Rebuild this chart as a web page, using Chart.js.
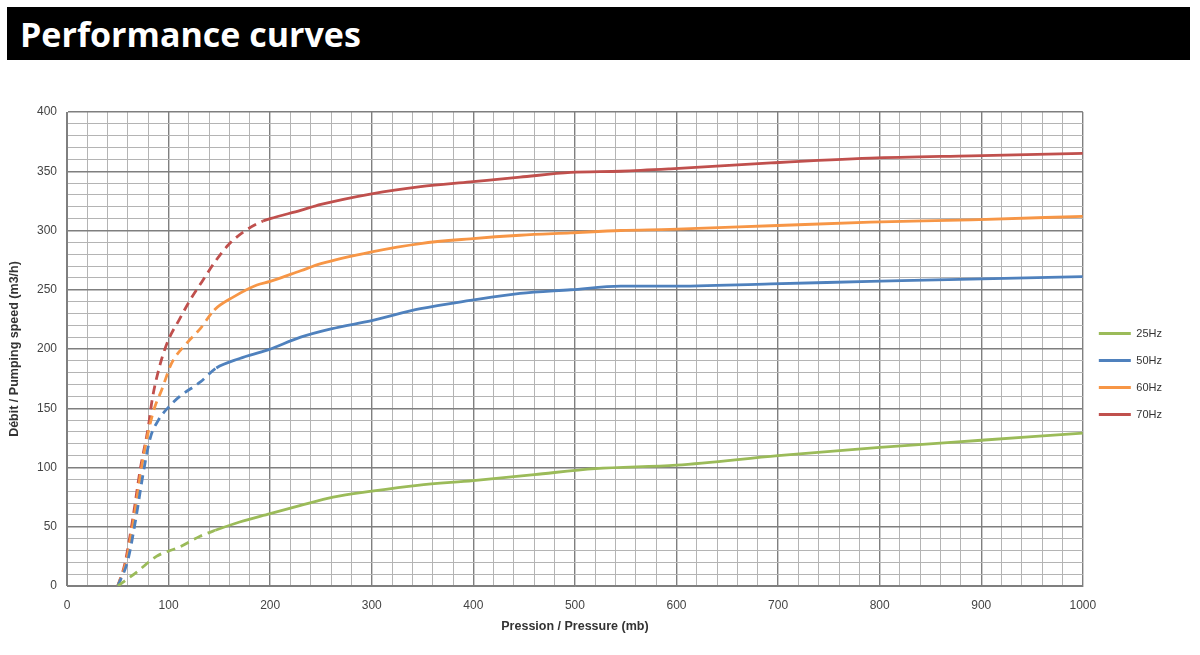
<!DOCTYPE html>
<html>
<head>
<meta charset="utf-8">
<script src="https://cdn.jsdelivr.net/npm/chart.js@4.4.1/dist/chart.umd.min.js"></script>
<style>
  html, body { margin: 0; padding: 0; background: #fff; }
  body { width: 1200px; height: 655px; position: relative; overflow: hidden; }
  #banner {
    position: absolute; left: 7px; top: 7px; width: 1183px; height: 53px;
    background: #000; color: #fff;
    font-family: "Open Sans", sans-serif; font-weight: 700; font-size: 34px;
    line-height: 55px; padding-left: 13px; box-sizing: border-box;
  }
  #wrap { position: absolute; left: 0; top: 90px; width: 1200px; height: 546px; }
</style>
</head>
<body>
<div id="banner">Performance curves</div>
<div id="wrap"><canvas id="perfChart"></canvas></div>
<script>
// performance curves - pumping speed vs pressure

// 25Hz
let p25 = [50, 69, 88, 111, 131, 146, 170, 200, 230, 262, 300, 345, 400, 460, 520, 600, 700, 800, 900, 1000];
let q25 = [0, 12, 25, 33, 42, 47, 54, 61, 68, 75, 80, 85, 89, 94, 99, 102, 110, 117, 123, 129];

// 50Hz
let p50 = [50, 60, 68, 75, 82, 90, 100, 111, 131, 147, 170, 197, 230, 260, 300, 348, 397, 446, 496, 545, 594, 693, 791, 890, 1000];
let q50 = [0, 22, 58, 95, 125, 140, 151, 160, 172, 184, 192, 199, 210, 217, 224, 234, 241, 247, 250, 253, 253, 255, 257, 259, 261];

// 60Hz
let p60 = [50, 58, 66, 73, 80, 86, 93, 103, 118, 131, 145, 164, 187, 200, 230, 250, 300, 348, 397, 446, 496, 545, 594, 693, 791, 890, 1000];
let q60 = [0, 20, 58, 98, 130, 150, 165, 188, 205, 217, 233, 244, 254, 257, 266, 272, 282, 289, 293, 296, 298, 300, 301, 304, 307, 309, 312];

// 70Hz
let p70 = [50, 57, 65, 72, 80, 84, 92, 100, 110, 121, 133, 146, 159, 174, 193, 200, 230, 250, 300, 348, 397, 446, 496, 545, 594, 693, 791, 890, 1000];
let q70 = [0, 19, 58, 98, 134, 158, 188, 208, 224, 241, 257, 274, 288, 299, 308, 310, 317, 322, 331, 337, 341, 345, 349, 350, 352, 357, 361, 363, 365];

// pressure where the dashed part of each curve stops
let dashEnd = { "25Hz": 146, "50Hz": 147, "60Hz": 145, "70Hz": 193 };

let labels = ["25Hz", "50Hz", "60Hz", "70Hz"];
let colors = ["#9bbb59", "#4f81bd", "#f79646", "#c0504d"];
let pressures = [p25, p50, p60, p70];
let flows = [q25, q50, q60, q70];

const toPoints = (xs, ys) => xs.map((x, i) => ({ x: x, y: ys[i] }));

let datasets = labels.map((name, i) => ({
  label: name,
  data: toPoints(pressures[i], flows[i]),
  borderColor: colors[i],
  backgroundColor: colors[i],
  borderWidth: 2.8,
  pointRadius: 0,
  cubicInterpolationMode: "monotone",
  segment: {
    borderDash: (ctx) => (ctx.p1.parsed.x <= dashEnd[name] ? [9, 6] : undefined),
  },
}));

const fontFamily = "'Liberation Sans', Arial, sans-serif";
const tickFont = { family: fontFamily, size: 12 };
const titleFont = { family: fontFamily, size: 12.5, weight: "bold" };

const majorGrid = "#7f7f7f";
const minorGrid = "#b4b4b4";

const config = {
  type: "line",
  data: { datasets: datasets },
  options: {
    responsive: true,
    maintainAspectRatio: false,
    animation: false,
    layout: { padding: { top: 22, right: 28, bottom: 0, left: 5 } },
    plugins: {
      legend: {
        position: "right",
        labels: {
          usePointStyle: true,
          pointStyle: "line",
          pointStyleWidth: 32,
          boxHeight: 2,
          padding: 16,
          color: "#333",
          font: { family: fontFamily, size: 11 },
        },
      },
      tooltip: { enabled: false },
    },
    scales: {
      x: {
        type: "linear",
        min: 0,
        max: 1000,
        afterFit: (scale) => { scale.height = 50; },
        ticks: {
          stepSize: 20,
          autoSkip: false,
          maxRotation: 0,
          color: "#444",
          font: tickFont,
          padding: 12,
          callback: (v) => (v % 100 === 0 ? v : ""),
        },
        grid: {
          drawTicks: false,
          color: (ctx) => (ctx.tick && ctx.tick.value % 100 === 0 ? majorGrid : minorGrid),
          lineWidth: (ctx) => (ctx.tick && ctx.tick.value % 100 === 0 ? 1.4 : 1),
        },
        border: { color: majorGrid },
        title: {
          display: true,
          text: "Pression / Pressure (mb)",
          color: "#333",
          font: titleFont,
          padding: { top: 4, bottom: 2 },
        },
      },
      y: {
        min: 0,
        max: 400,
        afterFit: (scale) => { scale.width = 62; },
        ticks: {
          stepSize: 10,
          autoSkip: false,
          color: "#444",
          font: tickFont,
          padding: 10,
          callback: (v) => (v % 50 === 0 ? v : ""),
        },
        grid: {
          drawTicks: false,
          color: (ctx) => (ctx.tick && ctx.tick.value % 50 === 0 ? majorGrid : minorGrid),
          lineWidth: (ctx) => (ctx.tick && ctx.tick.value % 50 === 0 ? 1.4 : 1),
        },
        border: { color: majorGrid },
        title: {
          display: true,
          text: "Débit / Pumping speed (m3/h)",
          color: "#333",
          font: titleFont,
          padding: { top: 2, bottom: 2 },
        },
      },
    },
  },
};

const perfChart = new Chart(document.getElementById("perfChart"), config);
</script>
</body>
</html>
